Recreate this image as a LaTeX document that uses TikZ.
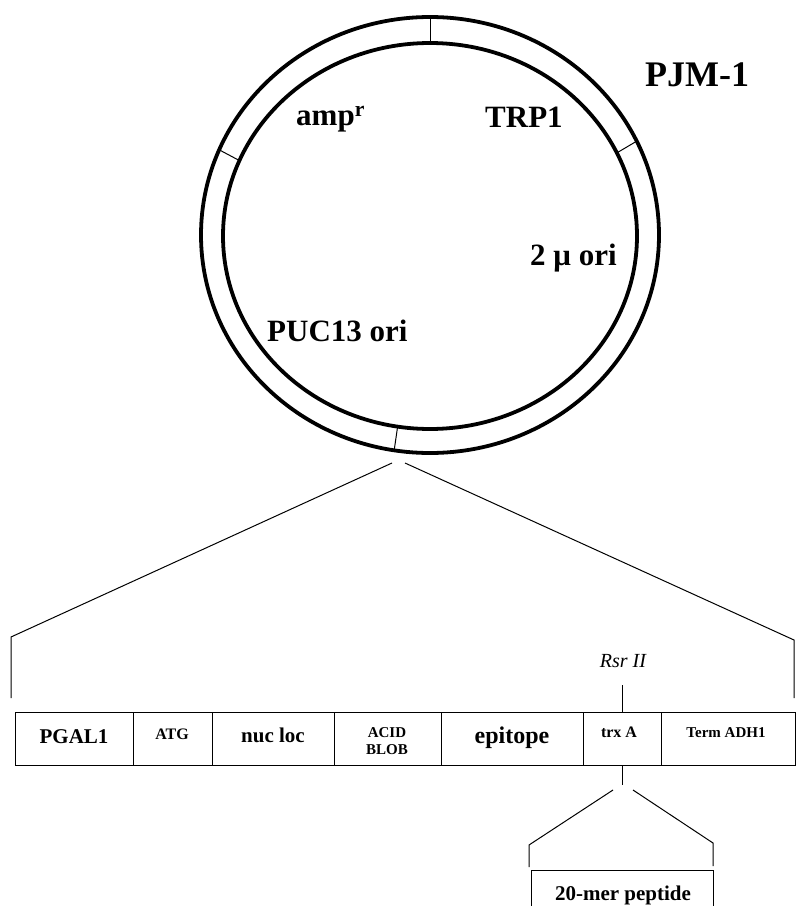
\documentclass[tikz,border=0pt]{standalone}
\usepackage{fontspec}
\setmainfont{Liberation Serif}
\begin{document}
\begin{tikzpicture}[x=1bp,y=-1bp,
  ring/.style={line width=3.8bp},
  thin/.style={line width=1bp},
  seg/.style={draw, line width=1.1bp, minimum height=53bp, inner sep=0pt, anchor=north west},
  big/.style={inner sep=0pt, anchor=base west, font=\fontsize{31bp}{36bp}\selectfont\bfseries},
  lbl/.style={inner sep=0pt, anchor=base, font=\fontsize{#1bp}{#1bp}\selectfont\bfseries},
  lbl/.default=21]
\useasboundingbox (0,0) rectangle (796,906);
\clip (0,0) rectangle (796,906);
% plasmid ring
\draw[ring] (430,235) ellipse [x radius=229, y radius=218];
\draw[ring] (430,236) ellipse [x radius=207, y radius=193];
\foreach \t in {90,157,25.5,261}
  \draw[thin] ({430+229*cos(\t)},{235-218*sin(\t)}) -- ({430+207*cos(\t)},{236-193*sin(\t)});
% labels in ring
\node[big] (amp) at (296,125) {amp\textsuperscript{r}};
\node[big] (trp) at (485,127) {TRP1};
\node[big] (mu) at (530,265) {2 μ ori};
\node[big] (puc) at (267,341) {PUC13 ori};
\node[inner sep=0pt, anchor=base west, font=\fontsize{36bp}{40bp}\selectfont\bfseries] (pjm) at (645,86) {PJM-1};
% expansion lines
\coordinate (apl) at (392,463);
\coordinate (apr) at (405,463);
\coordinate (bl) at (11,637);
\coordinate (bl2) at (11,698);
\coordinate (br) at (794,640);
\coordinate (br2) at (794,698);
\draw[thin] (apl) -- (bl) -- (bl2);
\draw[thin] (apr) -- (br) -- (br2);
% cassette
\node[seg, minimum width=118bp] (pgal) at (15,712) {};
\node[seg, minimum width=79bp] (atg) at (133,712) {};
\node[seg, minimum width=122bp] (nuc) at (212,712) {};
\node[seg, minimum width=107bp] (acid) at (334,712) {};
\node[seg, minimum width=142bp] (epi) at (441,712) {};
\node[seg, minimum width=78bp] (trx) at (583,712) {};
\node[seg, minimum width=134bp] (term) at (661,712) {};
\node[lbl=21] (tpgal) at (74,743) {PGAL1};
\node[lbl=16] (tatg) at (172,739) {ATG};
\node[lbl=21] (tnuc) at (273,742) {nuc loc};
\node[inner sep=0pt, align=center, font=\fontsize{15bp}{17bp}\selectfont\bfseries] (tacid) at (387,741) {ACID\\BLOB};
\node[lbl=24] (tepi) at (512,743) {epitope};
\node[lbl=16] (ttrx) at (619,737) {trx A};
\node[lbl=15] (tterm) at (726,737) {Term ADH1};
% Rsr II site
\node[inner sep=0pt, anchor=base, font=\fontsize{20bp}{22bp}\selectfont\itshape] (rsr) at (623,667) {Rsr II};
\coordinate (rtop) at (trx.north |- 0,685);
\draw[thin] (trx.north) -- (rtop);
\coordinate (rbot) at (trx.south |- 0,785);
\draw[thin] (trx.south) -- (rbot);
% insert expansion
\coordinate (pl) at (613,790);
\coordinate (pr) at (633,790);
\coordinate (ql) at (529,845);
\coordinate (ql2) at (529,867);
\coordinate (qr) at (713,843);
\coordinate (qr2) at (713,866);
\draw[thin] (pl) -- (ql) -- (ql2);
\draw[thin] (pr) -- (qr) -- (qr2);
\node[seg, minimum width=182bp, minimum height=70bp] (pep) at (531,870) {};
\node[lbl=21] (tpep) at (623,900) {20-mer peptide};
\end{tikzpicture}
\end{document}
